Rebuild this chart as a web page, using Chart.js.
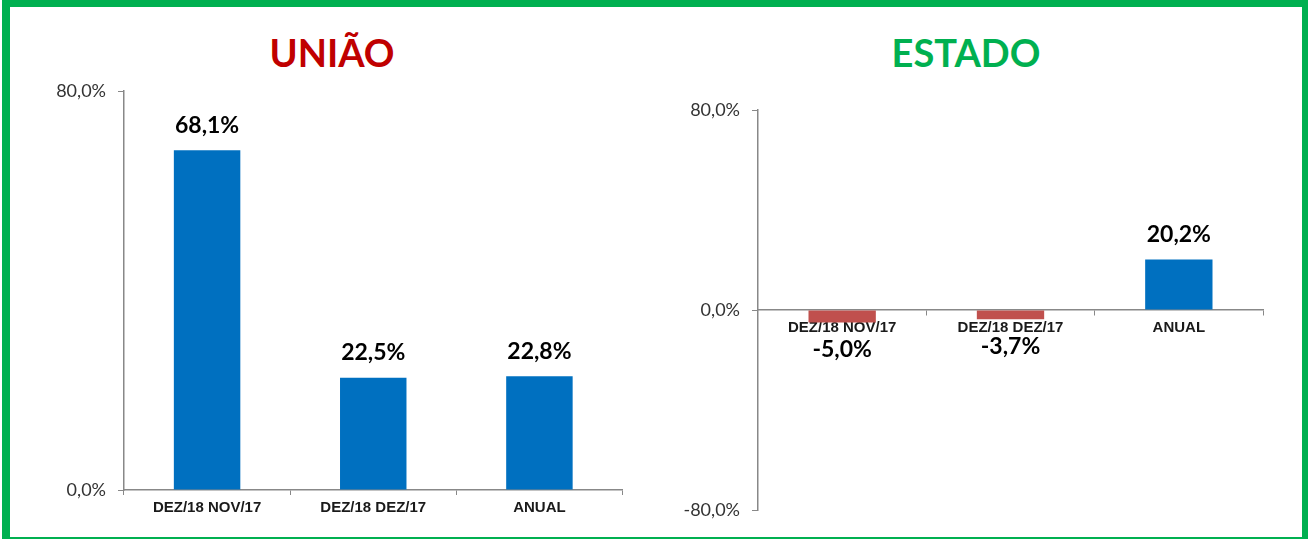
<!DOCTYPE html>
<html lang="pt-BR">
<head>
<meta charset="utf-8">
<title>União x Estado</title>
<script src="https://cdn.jsdelivr.net/npm/chart.js@4.4.1/dist/chart.umd.min.js"></script>
<style>
  html, body { margin: 0; padding: 0; background: #fff; }
  body { width: 1308px; height: 539px; position: relative; overflow: hidden; }
  .moldura {
    position: absolute; left: 2px; top: 0; width: 1306px; height: 539px;
    box-sizing: border-box; border-style: solid; border-color: #00B050;
    border-width: 7px 6px 2px 8px; pointer-events: none; z-index: 5;
  }
  .titulo {
    position: absolute; top: 33px; width: 300px; text-align: center;
    font-family: Lato, sans-serif; font-weight: bold; font-size: 38px; line-height: 1;
  }
  .grafico { position: absolute; top: 0; width: 654px; height: 539px; }
</style>
</head>
<body>
<div class="moldura"></div>
<div class="titulo" style="left:182px; color:#C00000;">UNIÃO</div>
<div class="titulo" style="left:816px; color:#00B050;">ESTADO</div>
<div class="grafico" style="left:0;"><canvas id="graficoUniao"></canvas></div>
<div class="grafico" style="left:654px;"><canvas id="graficoEstado"></canvas></div>
<script>
// dados
const categorias = ['DEZ/18 NOV/17', 'DEZ/18 DEZ/17', 'ANUAL'];
const valoresUniao = [68.1, 22.5, 22.8];
const valoresEstado = [-5.0, -3.7, 20.2];
const ticksUniao = [0, 80];
const ticksEstado = [-80, 0, 80];

const AZUL = '#0070C0';
const VERMELHO = '#C0504D';
const CINZA = '#888888';

function formataPct(v) {
    return v.toFixed(1).replace('.', ',') + '%';
}

// rótulos de dados acima/abaixo das barras
const rotulosPlugin = {
    id: 'rotulos',
    afterDatasetsDraw(chart) {
        const ctx = chart.ctx;
        const meta = chart.getDatasetMeta(0);
        const dados = chart.data.datasets[0].data;
        ctx.save();
        ctx.font = 'bold 23px Lato, sans-serif';
        ctx.fillStyle = '#000';
        ctx.textAlign = 'center';
        ctx.textBaseline = 'middle';
        meta.data.forEach((barra, i) => {
            const v = dados[i];
            const y = v >= 0 ? barra.y - 25 : barra.y + 27;
            ctx.fillText(formataPct(v), barra.x, y);
        });
        ctx.restore();
    }
};

function criaGrafico(id, valores, ticks, opcoes) {
    const ctx = document.getElementById(id).getContext('2d');
    return new Chart(ctx, {
        type: 'bar',
        data: {
            labels: categorias,
            datasets: [{
                data: valores,
                backgroundColor: valores.map(v => v >= 0 ? AZUL : VERMELHO),
                borderWidth: 0,
                categoryPercentage: 1,
                barPercentage: 0.4
            }]
        },
        options: {
            responsive: true,
            maintainAspectRatio: false,
            animation: false,
            layout: { padding: opcoes.padding },
            plugins: {
                legend: { display: false },
                tooltip: { enabled: false }
            },
            scales: {
                x: {
                    position: opcoes.posicaoX,
                    grid: { offset: true, drawOnChartArea: false, drawTicks: true, tickLength: 5, color: CINZA },
                    border: { color: CINZA, width: 1.5 },
                    ticks: {
                        padding: 4,
                        color: '#1a1a1a',
                        font: { family: '"Liberation Sans", Arial, sans-serif', weight: 'bold', size: 15 },
                        maxRotation: 0,
                        autoSkip: false
                    },
                    afterFit: opcoes.alturaX ? (s) => { s.height = opcoes.alturaX; } : undefined
                },
                y: {
                    min: ticks[0],
                    max: ticks[ticks.length - 1],
                    afterBuildTicks: (s) => { s.ticks = ticks.map(v => ({ value: v })); },
                    afterFit: (s) => { s.width = opcoes.larguraY; },
                    grid: { drawOnChartArea: false, drawTicks: true, tickLength: 6, color: CINZA },
                    border: { color: CINZA, width: 1.5 },
                    ticks: {
                        padding: 12,
                        color: '#333',
                        font: { family: 'Lato, sans-serif', size: 18 },
                        callback: (v) => formataPct(v)
                    }
                }
            }
        },
        plugins: [rotulosPlugin]
    });
}

criaGrafico('graficoUniao', valoresUniao, ticksUniao, {
    padding: { left: 0, right: 31.5, top: 91, bottom: 0 },
    posicaoX: 'bottom',
    alturaX: 49,
    larguraY: 124
});

criaGrafico('graficoEstado', valoresEstado, ticksEstado, {
    padding: { left: 0, right: 45, top: 110, bottom: 29 },
    posicaoX: { y: 0 },
    alturaX: null,
    larguraY: 104
});
</script>
</body>
</html>
